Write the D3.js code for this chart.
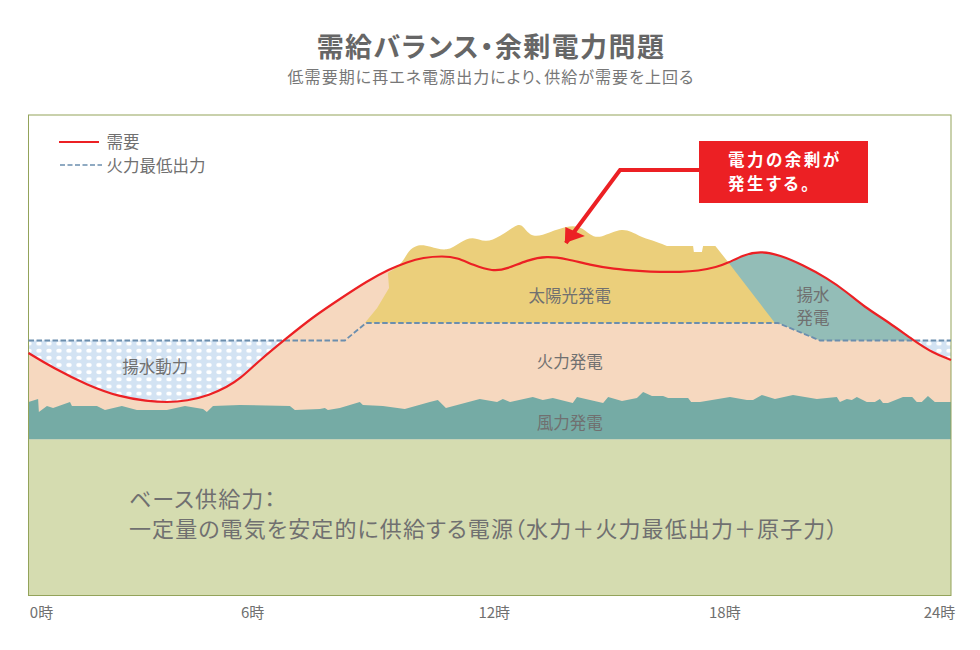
<!DOCTYPE html>
<html>
<head>
<meta charset="utf-8">
<script src="https://cdn.jsdelivr.net/npm/d3@7"></script>
<style>
html, body { margin: 0; padding: 0; background: #fff; }
svg { display: block; }
text { font-family: "Noto Sans CJK JP", "Noto Sans", sans-serif; font-feature-settings: "palt"; }
</style>
</head>
<body>
<svg id="chart" width="980" height="650"></svg>
<script>
// hours of day and output (output in arbitrary units, 0 = bottom of the frame)
var demandHours = [0, 0.64, 1.52, 2.38, 3.08, 3.60, 4.12, 4.72, 5.16, 5.50, 6.02, 6.72, 7.40, 8.10, 8.81, 9.40, 9.85, 10.26, 10.78, 11.15, 11.56, 12.08, 12.45, 12.97, 13.49, 14.01, 14.61, 15.21, 15.91, 16.43, 16.95, 17.42, 17.91, 18.20, 18.59, 19.03, 19.55, 20.15, 20.77, 21.29, 21.71, 22.41, 23.01, 23.53, 24];
var demandValues = [242, 227, 210, 198, 194, 192.5, 194, 200, 208, 216, 235, 257, 278, 296, 314, 326, 333, 337.5, 339, 337.5, 330, 323.5, 326, 335, 339, 336, 330, 326, 324, 323, 323, 324, 328, 332, 340, 344, 340, 330, 317, 303, 289, 272, 255, 242, 235];

var minThermalHours = [0, 8.23, 8.78, 19.50, 20.59, 24];
var minThermalValues = [254.5, 254.5, 272, 272, 254.5, 254.5];

var windHours = [0, 0.25, 0.27, 0.48, 0.64, 1.08, 1.13, 1.78, 1.99, 2.43, 2.82, 3.60, 4.07, 4.54, 4.64, 4.80, 5.50, 6.80, 6.93, 7.58, 7.71, 7.79, 8.10, 8.62, 8.70, 9.22, 9.79, 10.44, 10.65, 10.86, 11.74, 12.19, 12.34, 12.53, 13.12, 13.38, 13.64, 14.16, 14.27, 14.95, 15.08, 15.44, 15.83, 15.99, 16.22, 16.51, 16.64, 17.16, 17.24, 17.47, 18.25, 18.69, 18.85, 19.08, 19.42, 19.89, 20.51, 21.03, 21.11, 21.29, 21.42, 21.55, 21.81, 22.02, 22.15, 22.23, 22.36, 22.75, 22.99, 23.11, 23.24, 23.40, 23.58, 24];
var windValues = [193, 196, 183, 189, 187, 193, 189, 189, 185, 189, 185, 185, 189, 186, 183, 189, 190, 189, 185, 186, 187, 185, 187, 193, 190, 189, 186, 193, 195, 187, 196, 193, 196, 193, 198, 195, 197, 192, 198, 192, 198, 194, 197, 203, 199, 199, 197, 197, 193, 193, 198, 195, 195, 200, 196, 200, 196, 198, 193, 196, 195, 198, 193, 193, 196, 192, 192, 198, 198, 193, 193, 199, 193, 193];
var windBase = 155.5;

// solar: rising edge, smooth top, then the flat notched part and the falling edge
var solarEdgeHours = [8.75, 9.07, 9.38, 9.35];
var solarEdgeValues = [272, 287, 307, 322];
var solarTopHours = [9.35, 9.74, 9.87, 10.13, 10.44, 10.89, 11.23, 11.56, 11.88, 12.26, 12.71, 12.86, 13.10, 13.57, 14.01, 14.35, 14.61, 14.87, 15.46, 15.91, 16.22, 16.61];
var solarTopValues = [322, 332, 344, 351, 349, 343, 353, 359, 352, 358, 371, 370, 356, 363, 369, 369, 360, 356, 369, 358, 355, 349];
var solarEndHours = [17.29, 17.31, 17.52, 17.55, 17.87, 18.20, 19.42];
var solarEndValues = [349, 343, 343, 349, 349, 333, 272];

var pumpedStartHour = 18.20;

var tickHours = [0, 6, 12, 18, 24];
var tickLabels = ["0時", "6時", "12時", "18時", "24時"];
var tickNudge = [12.5, -7, 4, 4, -12]; // labels do not sit exactly on the hour in the original

var titleText = "需給バランス・余剰電力問題";
var subtitleText = "低需要期に再エネ電源出力により、供給が需要を上回る";
var legendLabels = ["需要", "火力最低出力"];
var calloutLines = ["電力の余剰が", "発生する。"];
var baseLines = ["ベース供給力：", "一定量の電気を安定的に供給する電源（水力＋火力最低出力＋原子力）"];

// leader of the callout, hour and value
var leaderHours = [17.47, 15.39, 13.98];
var leaderValues = [425, 425, 352];


var svg = d3.select("#chart");

var x = d3.scaleLinear().domain([0, 24]).range([28.5, 951]);
var y = d3.scaleLinear().domain([0, 480]).range([595, 115]);

var textGrey = "#707070";
var red = "#ec2024";

function pairs(hours, values) {
	return hours.map(function (h, i) { return [x(h), y(values[i])]; });
};

var demand = pairs(demandHours, demandValues);
var minThermal = pairs(minThermalHours, minThermalValues);

var smooth = d3.line().curve(d3.curveBasis);
var straight = d3.line();

var defs = svg.append("defs");

// white dots on blue for the pumping area
var pattern = defs.append("pattern")
	.attr("id", "dots")
	.attr("patternUnits", "userSpaceOnUse")
	.attr("x", 34).attr("y", 340)
	.attr("width", 10).attr("height", 7.15);
pattern.append("rect").attr("width", 10).attr("height", 7.15).attr("fill", "#d3e3f3");
pattern.append("ellipse").attr("cx", 5).attr("cy", 3.6).attr("rx", 2.7).attr("ry", 2).attr("fill", "#fff");

// everything under the demand curve
var underDemand = smooth(demand) + "L" + x(24) + "," + y(windBase) + "L" + x(0) + "," + y(windBase) + "Z";
defs.append("clipPath").attr("id", "under-demand").append("path").attr("d", underDemand);

// pumping band, then thermal over it
svg.append("rect")
	.attr("x", x(0)).attr("y", y(254.5))
	.attr("width", x(24) - x(0)).attr("height", y(windBase) - y(254.5))
	.attr("fill", "url(#dots)");
svg.append("path").attr("d", underDemand).attr("fill", "#f6d8bf");

// pumped generation, above the thermal minimum and under demand
var pumpedPts = minThermal.filter(function (p) { return p[0] > x(pumpedStartHour); });
svg.append("path")
	.attr("clip-path", "url(#under-demand)")
	.attr("d", straight([[x(pumpedStartHour), y(480)], [x(pumpedStartHour), y(272)]].concat(pumpedPts).concat([[x(24), y(480)]])) + "Z")
	.attr("fill", "#93bdb7");

// solar
var solarPath = straight(pairs(solarEdgeHours, solarEdgeValues))
	+ "L" + smooth(pairs(solarTopHours, solarTopValues)).slice(1)
	+ "L" + straight(pairs(solarEndHours, solarEndValues)).slice(1) + "Z";
svg.append("path").attr("d", solarPath).attr("fill", "#ebcf7b");

// wind
svg.append("path")
	.attr("d", d3.area().x(function (d) { return d[0]; }).y1(function (d) { return d[1]; }).y0(y(windBase))(pairs(windHours, windValues)))
	.attr("fill", "#75aba5");

// base supply
svg.append("rect")
	.attr("x", x(0)).attr("y", y(windBase))
	.attr("width", x(24) - x(0)).attr("height", y(0) - y(windBase))
	.attr("fill", "#d5dcb0");

// frame
svg.append("rect")
	.attr("x", 28.5).attr("y", 115)
	.attr("width", 922.5).attr("height", 480.5)
	.attr("fill", "none").attr("stroke", "#93a35a").attr("stroke-width", 1);

// lines
svg.append("path").attr("d", straight(minThermal))
	.attr("fill", "none").attr("stroke", "#6b8eae").attr("stroke-width", 1.8).attr("stroke-dasharray", "5.5 2.5");
svg.append("path").attr("d", smooth(demand))
	.attr("fill", "none").attr("stroke", red).attr("stroke-width", 2.2);

// axis
var axis = d3.axisBottom(x).tickValues(tickHours).tickSize(0).tickFormat(function (d, i) { return tickLabels[i]; });
var axisG = svg.append("g").attr("transform", "translate(0,595)").call(axis);
axisG.select(".domain").remove();
axisG.selectAll("text")
	.attr("dx", function (d, i) { return tickNudge[i]; })
	.attr("dy", "0")
	.attr("y", 23)
	.attr("fill", textGrey)
	.style("font-family", "\"Noto Sans CJK JP\", sans-serif")
	.style("font-size", "15px");

// titles
svg.append("text").text(titleText)
	.attr("x", 491).attr("y", 57).attr("text-anchor", "middle")
	.attr("fill", "#666").style("font-size", "27px").style("font-weight", 700).style("letter-spacing", "1.4px");
svg.append("text").text(subtitleText)
	.attr("x", 491).attr("y", 83).attr("text-anchor", "middle")
	.attr("fill", "#777").style("font-size", "16px").style("letter-spacing", "1.05px");

// legend
svg.append("line").attr("x1", 59).attr("x2", 99).attr("y1", 142).attr("y2", 142)
	.attr("stroke", red).attr("stroke-width", 2);
svg.append("line").attr("x1", 60).attr("x2", 102).attr("y1", 165).attr("y2", 165)
	.attr("stroke", "#6b8eae").attr("stroke-width", 1.6).attr("stroke-dasharray", "5 2.5");
svg.selectAll(".legend-label").data(legendLabels).enter().append("text")
	.attr("class", "legend-label")
	.attr("x", 106.5)
	.attr("y", function (d, i) { return 148 + i * 24; })
	.attr("fill", textGrey).style("font-size", "16.5px")
	.text(function (d) { return d; });

// area labels
function areaLabel(text, hour, value, size) {
	svg.append("text").text(text)
		.attr("x", x(hour)).attr("y", y(value)).attr("text-anchor", "middle")
		.attr("fill", textGrey).style("font-size", (size || 16.5) + "px");
};
areaLabel("揚水動力", 3.30, 222);
areaLabel("太陽光発電", 14.08, 293);
areaLabel("火力発電", 14.08, 227);
areaLabel("風力発電", 14.08, 166);
areaLabel("揚水", 20.41, 294);
areaLabel("発電", 20.41, 271);

// base supply text
svg.selectAll(".base-label").data(baseLines).enter().append("text")
	.attr("class", "base-label")
	.attr("x", 129)
	.attr("y", function (d, i) { return 507 + i * 30; })
	.attr("fill", textGrey).style("font-size", "22px").style("letter-spacing", "1.1px")
	.text(function (d) { return d; });

// callout with leader and arrow head
svg.append("path").attr("d", straight(pairs(leaderHours, leaderValues)))
	.attr("fill", "none").attr("stroke", red).attr("stroke-width", 4);
var tip = [x(leaderHours[2]) - 1, y(leaderValues[2])];
svg.append("path").attr("d", straight([tip, [tip[0] + 0.5, tip[1] - 16], [tip[0] + 20, tip[1] - 7]]) + "Z").attr("fill", red);
svg.append("rect").attr("x", 699).attr("y", 141).attr("width", 169).attr("height", 62).attr("fill", red);
svg.selectAll(".callout-label").data(calloutLines).enter().append("text")
	.attr("class", "callout-label")
	.attr("x", 728)
	.attr("y", function (d, i) { return 166 + i * 24; })
	.attr("fill", "#fff").style("font-size", "16.5px").style("font-weight", 700).style("letter-spacing", "2.5px")
	.text(function (d) { return d; });
</script>
</body>
</html>
